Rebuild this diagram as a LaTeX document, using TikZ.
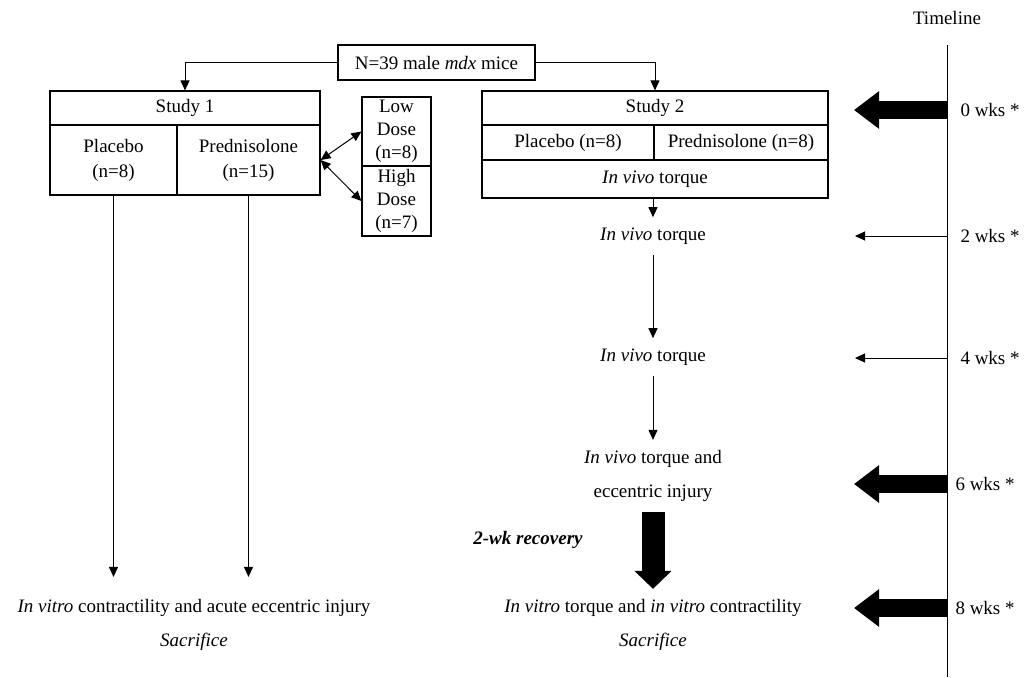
\documentclass[tikz,border=0pt]{standalone}
\usepackage{fontspec}
\setmainfont{Liberation Serif}
\usetikzlibrary{arrows.meta}

\begin{document}
\fontsize{9.5}{11.5}\selectfont
\begin{tikzpicture}[x=0.5pt, y=-0.5pt, line width=0.5pt,
    >={Triangle[width=4.5pt,length=5pt]},
    cell/.style={draw, line width=0.6pt, inner sep=0pt, minimum height=17pt, align=center},
    stage/.style={inner sep=5pt, align=center},
    fat/.style={line width=9pt, -{Triangle[width=18pt,length=12.5pt]}},
    fatdown/.style={line width=11.5pt, -{Triangle[width=18pt,length=9pt]}}]
    \useasboundingbox (0,0) rectangle (1024,677);
    % Top box
    \node[cell, minimum width=98.5pt, minimum height=17.5pt] (mice) at (436.5,62.5) {N=39 male \textit{mdx} mice};
    % Study 1
    \node[cell, minimum width=135pt] (s1head) at (185,108) {Study 1};
    \node[cell, minimum width=63.5pt, minimum height=35pt] (s1plac) at (113.5,160) {Placebo\\[1pt](n=8)};
    \node[cell, minimum width=71.5pt, minimum height=35pt] (s1pred) at (248.5,160) {Prednisolone\\[1pt](n=15)};
    \node[cell, minimum width=34.5pt, minimum height=34.5pt] (lowdose) at (396.5,131.5) {Low\\Dose\\(n=8)};
    \node[cell, minimum width=34.5pt, minimum height=35pt] (highdose) at (396.5,201) {High\\Dose\\(n=7)};
    % Study 2
    \node[cell, minimum width=173pt] (s2head) at (655,108) {Study 2};
    \node[cell, minimum width=86pt, minimum height=17.5pt] (s2plac) at (568,142.5) {Placebo (n=8)};
    \node[cell, minimum width=87pt, minimum height=17.5pt] (s2pred) at (741,142.5) {Prednisolone (n=8)};
    \node[cell, minimum width=173pt, minimum height=19pt] (s2vivo) at (655,179) {\textit{In vivo} torque};
    \node[stage] (vivo2) at (653,236) {\textit{In vivo} torque};
    \node[stage] (vivo4) at (653,357) {\textit{In vivo} torque};
    \node[stage] (injury) at (653,476) {\textit{In vivo} torque and\\[5.5pt]eccentric injury};
    \node[stage] (vitro2) at (653,625) {\textit{In vitro} torque and \textit{in vitro} contractility\\[5.5pt]\textit{Sacrifice}};
    \node[font=\bfseries\itshape] (recov) at (528,540) {2-wk recovery};
    \node[stage] (vitro1) at (194,625) {\textit{In vitro} contractility and acute eccentric injury\\[5.5pt]\textit{Sacrifice}};
    % Connectors
    \draw[->] (mice.west) -| (s1head.north);
    \draw[->] (mice.east) -| (s2head.north);
    \draw[<->] (s1pred.east) -- (lowdose.west);
    \draw[<->] (s1pred.east) -- (highdose.west);
    \draw[->, shorten >=6pt] (s1plac.south) -- (s1plac.south |- vitro1.north);
    \draw[->, shorten >=6pt] (s1pred.south) -- (s1pred.south |- vitro1.north);
    \draw[->] (s2vivo.south -| vivo2) -- (vivo2);
    \draw[->] (vivo2) -- (vivo4);
    \draw[->] (vivo4) -- (injury);
    \draw[fatdown] (injury) -- (vitro2);
    % Timeline
    \node (tltitle) at (947,18) {Timeline};
    \coordinate (tltop) at (947,45);
    \coordinate (tlbot) at (947,677);
    \draw (tltop) -- (tlbot);
    \node[anchor=west, inner sep=0pt] (w0) at (960,110) {0 wks *};
    \node[anchor=west, inner sep=0pt] (w2) at (960,236) {2 wks *};
    \node[anchor=west, inner sep=0pt] (w4) at (960,358) {4 wks *};
    \node[anchor=west, inner sep=0pt] (w6) at (955,484) {6 wks *};
    \node[anchor=west, inner sep=0pt] (w8) at (955,608) {8 wks *};
    \coordinate (a0) at (854,110);
    \coordinate (a2) at (855,236);
    \coordinate (a4) at (855,358);
    \coordinate (a6) at (854,484);
    \coordinate (a8) at (854,608);
    \draw[fat] (tltop |- w0) -- (a0);
    \draw[->] (tltop |- w2) -- (a2);
    \draw[->] (tltop |- w4) -- (a4);
    \draw[fat] (tltop |- w6) -- (a6);
    \draw[fat] (tltop |- w8) -- (a8);
\end{tikzpicture}
\end{document}
